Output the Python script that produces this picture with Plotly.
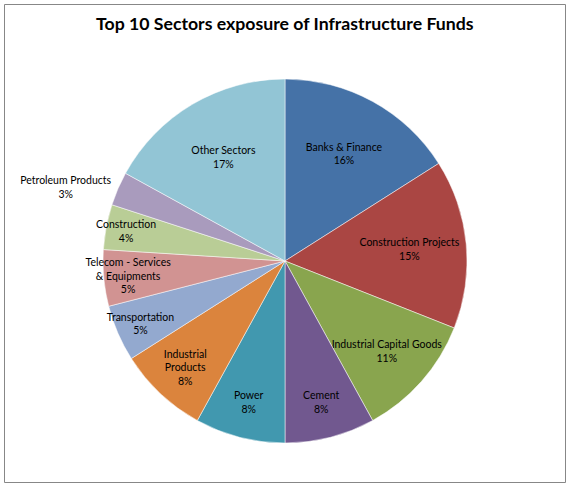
import plotly.graph_objects as go

sectors = ["Banks & Finance", "Construction Projects", "Industrial Capital Goods", "Cement",
           "Power", "Industrial Products", "Transportation", "Telecom - Services & Equipments",
           "Construction", "Petroleum Products", "Other Sectors"]
values = [16, 15, 11, 8, 8, 8, 5, 5, 4, 3, 17]
display_labels = ["Banks & Finance", "Construction Projects", "Industrial Capital Goods", "Cement",
                  "Power", "Industrial<br>Products", "Transportation", "Telecom - Services<br>& Equipments",
                  "Construction", "Petroleum Products", "Other Sectors"]
colors = ["#4572A7", "#AA4643", "#89A54E", "#71588F", "#4198AF", "#DB843D",
          "#93A9CF", "#D19392", "#B9CD96", "#A99BBD", "#92C5D5"]
positions = ["inside"] * 9 + ["outside", "inside"]

W, H = 570, 487
cx, cy, r = 285, 261, 182

fig = go.Figure(go.Pie(
    labels=sectors,
    values=values,
    text=display_labels,
    texttemplate="%{text}<br>%{percent:.0%}",
    textposition=positions,
    insidetextorientation="horizontal",
    sort=False,
    direction="clockwise",
    rotation=0,
    marker=dict(colors=colors, line=dict(color="white", width=0.5)),
    textfont=dict(family="Lato", size=10.5, color="black"),
    showlegend=False,
    hoverinfo="label+percent",
    domain=dict(x=[(cx - r) / W, (cx + r) / W], y=[1 - (cy + r) / H, 1 - (cy - r) / H]),
))

fig.update_layout(
    width=W, height=H,
    margin=dict(l=0, r=0, t=0, b=0),
    paper_bgcolor="white",
    uniformtext=dict(minsize=10.5, mode="show"),
    annotations=[dict(
        text="<b>Top 10 Sectors exposure of Infrastructure Funds</b>",
        x=0.5, y=1 - 24 / H, xref="paper", yref="paper",
        xanchor="center", yanchor="middle", showarrow=False,
        font=dict(family="Lato", size=17.7, color="black"),
    )],
    shapes=[dict(type="rect", xref="paper", yref="paper",
                 x0=4.5 / W, x1=565.5 / W, y0=1 - 482.5 / H, y1=1 - 4.5 / H,
                 line=dict(color="#878787", width=1))],
)

fig.write_html("out.html", config={"displayModeBar": False},
               post_script="document.body.style.margin='0px';document.body.style.overflow='hidden';")
